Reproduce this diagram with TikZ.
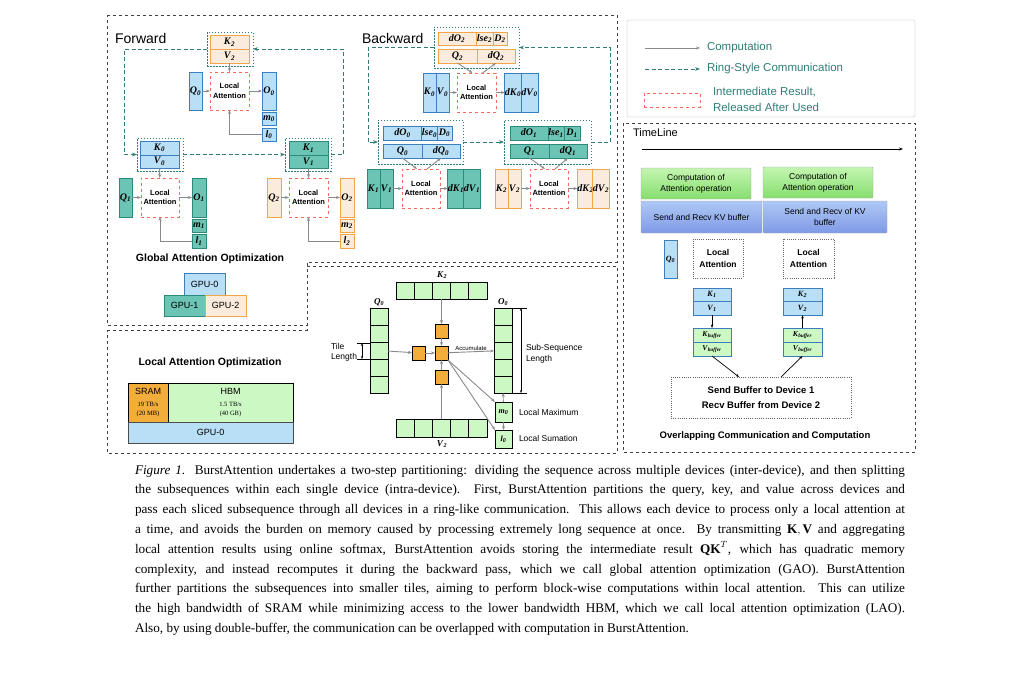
\documentclass[tikz,border=0pt]{standalone}
\usepackage{fontspec}
\setmainfont{Liberation Serif}
\setsansfont{Liberation Sans}
\usetikzlibrary{arrows.meta,calc}
\definecolor{bfill}{HTML}{B9DFF7}\definecolor{bdraw}{HTML}{3D7EBF}
\definecolor{tfill}{HTML}{6CC4B4}\definecolor{tdraw}{HTML}{2C8A7C}
\definecolor{ofill}{HTML}{FBEBDC}\definecolor{odraw}{HTML}{F2A64A}
\definecolor{gfill}{HTML}{CCF8C4}\definecolor{otile}{HTML}{F2AD3A}
\definecolor{redd}{HTML}{F26B5B}\definecolor{ringc}{HTML}{2E7D78}
\definecolor{graya}{HTML}{8A8A8A}
\definecolor{gtop}{HTML}{C4F5B2}\definecolor{gbot}{HTML}{86DE6E}
\definecolor{btop}{HTML}{AFC8F5}\definecolor{bbot}{HTML}{7F9AE6}
\newcommand\mv[2]{\textbf{\textit{#1}}\textsubscript{\textbf{\textit{#2}}}}
\newcommand\smalltxt[1]{{\rmfamily\fontsize{6.5}{8}\selectfont #1}}
\newcommand\bx[7]{\node[#1,minimum width={#4pt-#2pt},minimum height={#5pt-#3pt}] (#6) at ({(#2+#4)/2},{(#3+#5)/2}) {#7};}
\begin{document}
\begin{tikzpicture}[x=1pt,y=-1pt,
 every node/.style={inner sep=0pt,outer sep=0pt},
 cellf/.style={font=\fontsize{10}{10}\selectfont},
 bc/.style={cellf,draw=bdraw,fill=bfill,line width=1pt},
 tc/.style={cellf,draw=tdraw,fill=tfill,line width=1pt},
 oc/.style={cellf,draw=odraw,fill=ofill,line width=1pt},
 gc/.style={draw=black,fill=gfill,line width=0.9pt},
 ot/.style={draw=black,fill=otile,line width=0.8pt},
 la/.style={draw=redd,dashed,line width=1pt,align=center,font=\sffamily\bfseries\fontsize{7.5}{9.5}\selectfont},
 dotb/.style={draw=ringc,dash pattern=on 1.5pt off 1.5pt,line width=0.7pt},
 comp/.style={draw=graya,line width=0.9pt,-{Stealth[length=4pt]}},
 ring/.style={draw=ringc,dash pattern=on 4pt off 2.5pt,line width=1pt,-{Stealth[length=5pt]}},
 outer/.style={draw=black!75,dashed,line width=0.9pt},
 lbl/.style={font=\sffamily\fontsize{14}{14}\selectfont,anchor=west},
 sans/.style={font=\sffamily\fontsize{9}{11}\selectfont,align=center}]
\useasboundingbox (0,0) rectangle (1024,691);
% outer boxes
\draw[outer] (107,15) -- (617,15) -- (617,262) -- (307,262) -- (307,325) -- (107,325) -- cycle;
\draw[outer] (107,330) -- (307,330) -- (307,266) -- (617,266) -- (617,453) -- (107,453) -- cycle;
\node[lbl] (fwd) at (115,38) {Forward};
\node[lbl] (bwd) at (362,38) {Backward};
% ---------- Forward ----------
\bx{dotb}{207}{32}{253}{66}{fk2d}{}
\bx{oc}{210}{35}{249}{49}{fk2}{\mv{K}{2}}
\bx{oc}{210}{49}{249}{63}{fv2}{\mv{V}{2}}
\bx{bc}{189}{72}{202}{110}{fq0}{\mv{Q}{0}}
\bx{la}{210}{72}{249}{110}{fla0}{Local\\Attention}
\bx{bc}{262}{72}{276}{110}{fo0}{\mv{O}{0}}
\bx{bc}{262}{112}{276}{125}{fm0}{\mv{m}{0}}
\bx{bc}{262}{128}{276}{141}{fl0}{\mv{l}{0}}
\draw[comp] (fv2) -- (fla0);
\draw[comp] (fq0) -- (fla0);
\draw[comp] (fla0) -- (fo0);
\draw[comp] (fl0.west) -| (fla0.south);
\bx{dotb}{137}{138}{183}{171}{fk0d}{}
\bx{bc}{140}{141}{179}{155}{fk0}{\mv{K}{0}}
\bx{bc}{140}{155}{179}{168}{fv0}{\mv{V}{0}}
\bx{tc}{119}{178}{132}{217}{fq1}{\mv{Q}{1}}
\bx{la}{141}{178}{179}{217}{fla1}{Local\\Attention}
\bx{tc}{192}{178}{206}{217}{fo1}{\mv{O}{1}}
\bx{tc}{192}{219}{206}{232}{fm1}{\mv{m}{1}}
\bx{tc}{192}{234}{206}{248}{fl1}{\mv{l}{1}}
\draw[comp] (fv0) -- (fla1);
\draw[comp] (fq1) -- (fla1);
\draw[comp] (fla1) -- (fo1);
\draw[comp] (fl1.west) -| (fla1.south);
\bx{dotb}{285}{138}{331}{171}{fk1d}{}
\bx{tc}{289}{141}{328}{155}{fk1}{\mv{K}{1}}
\bx{tc}{289}{155}{328}{168}{fv1}{\mv{V}{1}}
\bx{oc}{267}{178}{281}{217}{fq2}{\mv{Q}{2}}
\bx{la}{289}{178}{328}{217}{fla2}{Local\\Attention}
\bx{oc}{340}{178}{354}{217}{fo2}{\mv{O}{2}}
\bx{oc}{340}{219}{354}{232}{fm2}{\mv{m}{2}}
\bx{oc}{340}{234}{354}{248}{fl2}{\mv{l}{2}}
\draw[comp] (fv1) -- (fla2);
\draw[comp] (fq2) -- (fla2);
\draw[comp] (fla2) -- (fo2);
\draw[comp] (fl2.west) -| (fla2.south);
\coordinate (r1) at (124,49); \coordinate (r2) at (124,154.5);
\coordinate (r3) at (343,154.5); \coordinate (r4) at (343,49);
\draw[ring] (fk2d.west) -- (r1) -- (r2) -- (fk0d.west);
\draw[ring] (fk0d.east) -- (fk1d.west);
\draw[ring] (fk1d.east) -- (r3) -- (r4) -- (fk2d.east);
\node[font=\sffamily\bfseries\fontsize{10.5}{12}\selectfont] (gao) at (210,259) {Global Attention Optimization};
\bx{bc}{184}{273}{225}{295}{g0}{\sffamily\fontsize{9}{9}\selectfont GPU-0}
\bx{tc}{164}{295}{205}{316}{g1}{\sffamily\fontsize{9}{9}\selectfont GPU-1}
\bx{oc}{205}{295}{246}{316}{g2}{\sffamily\fontsize{9}{9}\selectfont GPU-2}
% ---------- Backward ----------
\bx{dotb}{434}{27}{519}{68}{bkd}{}
\bx{oc}{438}{32}{476}{45}{bdo2}{\mv{dO}{2}}
\bx{oc}{476}{32}{493}{45}{blse2}{\mv{lse}{2}}
\bx{oc}{493}{32}{507}{45}{bD2}{\mv{D}{2}}
\bx{oc}{438}{49}{477}{63}{bq2}{\mv{Q}{2}}
\bx{oc}{477}{49}{515}{63}{bdq2}{\mv{dQ}{2}}
\bx{bc}{423}{73}{436}{112}{bk0}{\mv{K}{0}}
\bx{bc}{436}{73}{449}{112}{bv0}{\mv{V}{0}}
\bx{la}{457}{73}{496}{112}{bla0}{Local\\Attention}
\bx{bc}{505}{73}{521}{112}{bdk0}{\mv{dK}{0}}
\bx{bc}{521}{73}{538}{112}{bdv0}{\mv{dV}{0}}
\draw[comp] (bv0) -- (bla0);
\draw[comp] (bla0) -- (bdk0);
\draw[comp] (bq2.south) -- ($(bla0.north)+(-4,0)$);
\draw[comp] ($(bla0.north)+(6,0)$) -- (bdq2.south);
% left group
\bx{dotb}{378}{120}{463}{164}{bld}{}
\bx{bc}{383}{126}{422}{140}{bdo0}{\mv{dO}{0}}
\bx{bc}{422}{126}{437}{140}{blse0}{\mv{lse}{0}}
\bx{bc}{437}{126}{452}{140}{bD0}{\mv{D}{0}}
\bx{bc}{383}{144}{422}{158}{bq0}{\mv{Q}{0}}
\bx{bc}{422}{144}{460}{158}{bdq0}{\mv{dQ}{0}}
\bx{tc}{367}{169}{380}{208}{bk1}{\mv{K}{1}}
\bx{tc}{380}{169}{393}{208}{bv1}{\mv{V}{1}}
\bx{la}{402}{169}{440}{208}{bla1}{Local\\Attention}
\bx{tc}{448}{169}{464}{208}{bdk1}{\mv{dK}{1}}
\bx{tc}{464}{169}{480}{208}{bdv1}{\mv{dV}{1}}
\draw[comp] (bv1) -- (bla1);
\draw[comp] (bla1) -- (bdk1);
\draw[comp] (bq0.south) -- ($(bla1.north)+(-4,0)$);
\draw[comp] ($(bla1.north)+(6,0)$) -- (bdq0.south);
% right group
\bx{dotb}{504}{120}{591}{164}{brd}{}
\bx{tc}{510}{126}{548}{140}{bdo1}{\mv{dO}{1}}
\bx{tc}{548}{126}{564}{140}{blse1}{\mv{lse}{1}}
\bx{tc}{564}{126}{580}{140}{bD1}{\mv{D}{1}}
\bx{tc}{510}{144}{549}{158}{bq1}{\mv{Q}{1}}
\bx{tc}{549}{144}{587}{158}{bdq1}{\mv{dQ}{1}}
\bx{oc}{495}{169}{508}{208}{bk2}{\mv{K}{2}}
\bx{oc}{508}{169}{521}{208}{bv2}{\mv{V}{2}}
\bx{la}{530}{169}{568}{208}{bla2}{Local\\Attention}
\bx{oc}{578}{169}{593}{208}{bdk2}{\mv{dK}{2}}
\bx{oc}{593}{169}{609}{208}{bdv2}{\mv{dV}{2}}
\draw[comp] (bv2) -- (bla2);
\draw[comp] (bla2) -- (bdk2);
\draw[comp] (bq1.south) -- ($(bla2.north)+(-4,0)$);
\draw[comp] ($(bla2.north)+(6,0)$) -- (bdq1.south);
\coordinate (s1) at (368,47.5); \coordinate (s2) at (368,142);
\coordinate (s3) at (610,142); \coordinate (s4) at (610,47.5);
\draw[ring] (bkd.west) -- (s1) -- (s2) -- (bld.west);
\draw[ring] (bld.east) -- (brd.west);
\draw[ring] (brd.east) -- (s3) -- (s4) -- (bkd.east);
% ---------- LAO ----------
\node[font=\sffamily\bfseries\fontsize{10.5}{12}\selectfont] (lao) at (210,363) {Local Attention Optimization};
\bx{draw=black,fill=otile,line width=0.9pt,align=center,font=\sffamily\fontsize{9}{9}\selectfont}{128}{383}{168}{422}{sram}{SRAM\\[3pt]\smalltxt{19 TB/s}\\\smalltxt{(20 MB)}}
\bx{gc,align=center,font=\sffamily\fontsize{9}{9}\selectfont}{168}{383}{293}{422}{hbm}{HBM\\[3pt]\smalltxt{1.5 TB/s}\\\smalltxt{(40 GB)}}
\bx{draw=black!70,fill=bfill,line width=0.9pt}{128}{422}{293}{443}{lgpu}{\sffamily\fontsize{9}{9}\selectfont GPU-0}
\foreach \i in {1,...,5}{
  \pgfmathsetmacro\xa{396+(\i-1)*18.2}\pgfmathsetmacro\xb{396+\i*18.2}
  \bx{gc}{\xa}{282}{\xb}{299}{kr\i}{}
  \bx{gc}{\xa}{419}{\xb}{437}{vr\i}{}
  \pgfmathsetmacro\ya{308+(\i-1)*17}\pgfmathsetmacro\yb{308+\i*17}
  \bx{gc}{370}{\ya}{388}{\yb}{lq\i}{}
  \bx{gc}{494}{\ya}{512}{\yb}{lo\i}{}
}
\node[font=\fontsize{9}{9}\selectfont] (lk2) at (442,275) {\mv{K}{2}};
\node[font=\fontsize{9}{9}\selectfont] (lv2) at (442,444) {\mv{V}{2}};
\node[font=\fontsize{9}{9}\selectfont] (lq0) at (379,302) {\mv{Q}{0}};
\node[font=\fontsize{9}{9}\selectfont] (lo0) at (503,302) {\mv{O}{0}};
\bx{ot}{412}{346}{425}{360}{sqL}{}
\bx{ot}{435}{346}{448}{360}{sqC}{}
\bx{ot}{435}{324}{448}{338}{sqT}{}
\bx{ot}{435}{370}{448}{384}{sqB}{}
\bx{gc,font=\fontsize{8}{8}\selectfont}{495}{402}{512}{422}{lm0}{\mv{m}{0}}
\bx{gc,font=\fontsize{8}{8}\selectfont}{495}{430}{512}{448}{ll0}{\mv{l}{0}}
\draw[comp] (lq3) -- (sqL);
\draw[comp] (sqL) -- (sqC);
\draw[comp] (kr3) -- (sqT);
\draw[comp] (sqT) -- (sqC);
\draw[comp] (vr3) -- (sqB);
\draw[comp] (sqB) -- (sqC);
\draw[comp] (sqC) -- node[above=1.5pt,font=\sffamily\fontsize{6}{6}\selectfont] {Accumulate} (lo3);
\draw[comp] (sqC.south east) -- (lm0.north west);
\draw[comp] (sqC.south east) -- (ll0.north west);
\draw[comp] (lm0) -- (lo5);
\draw[comp] (lm0) -- (ll0);
\coordinate (t1) at (362,343); \coordinate (t2) at (362,359);
\draw[black,line width=0.6pt,{Stealth[length=3pt]}-{Stealth[length=3pt]}] (t1) -- (t2);
\draw[black,line width=0.6pt] ($(t1)+(-5,0)$) -- ($(t1)+(8,0)$) ($(t2)+(-5,0)$) -- ($(t2)+(8,0)$);
\node[font=\sffamily\fontsize{8.5}{10}\selectfont,align=left,anchor=east] (tl) at (357,352) {Tile\\Length};
\coordinate (u1) at (521,308); \coordinate (u2) at (521,393);
\draw[black,line width=0.6pt,{Stealth[length=3pt]}-{Stealth[length=3pt]}] (u1) -- (u2);
\draw[black,line width=0.6pt] ($(u1)+(-8,0)$) -- ($(u1)+(6,0)$) ($(u2)+(-8,0)$) -- ($(u2)+(6,0)$);
\node[font=\sffamily\fontsize{8.5}{11}\selectfont,align=left,anchor=west] (ssl) at (526,354) {Sub-Sequence\\Length};
\node[font=\sffamily\fontsize{8.5}{10}\selectfont,anchor=west] (lmx) at (519,412) {Local Maximum};
\node[font=\sffamily\fontsize{8.5}{10}\selectfont,anchor=west] (lsm) at (519,438) {Local Sumation};
% ---------- Legend ----------
\draw[black!12,line width=0.8pt,rounded corners=2pt] (627,20) rectangle (915,117);
\coordinate (a1) at (645,48); \coordinate (a2) at (700,48);
\coordinate (b1) at (645,69); \coordinate (b2) at (700,69);
\draw[comp] (a1) -- (a2);
\draw[ring] (b1) -- (b2);
\bx{la}{644}{93}{700}{107}{legla}{}
\node[lbl,font=\sffamily\fontsize{11.5}{11.5}\selectfont,text=ringc] (lg1) at (707,48) {Computation};
\node[lbl,font=\sffamily\fontsize{11.5}{11.5}\selectfont,text=ringc] (lg2) at (707,69) {Ring-Style Communication};
\node[lbl,font=\sffamily\fontsize{11.5}{16}\selectfont,text=ringc,align=left] (lg3) at (713,99) {Intermediate Result,\\Released After Used};
% ---------- Timeline ----------
\draw[outer] (623,123) rectangle (915,452);
\node[lbl,font=\sffamily\fontsize{11}{11}\selectfont] (tln) at (633,133) {TimeLine};
\coordinate (tl1) at (642,149); \coordinate (tl2) at (903,149);
\draw[black,line width=0.7pt,-{Stealth[length=4pt]}] (tl1) -- (tl2);
\tikzset{gbox/.style={draw=black!35,top color=gtop,bottom color=gbot,rounded corners=1pt,align=center,font=\sffamily\fontsize{8.5}{11}\selectfont},
 bbox/.style={draw=black!35,top color=btop,bottom color=bbot,rounded corners=1pt,align=center,font=\sffamily\fontsize{8.5}{11}\selectfont}}
\bx{gbox}{641}{168}{751}{199}{gb1}{Computation of\\Attention operation}
\bx{gbox}{763}{167}{873}{198}{gb2}{Computation of\\Attention operation}
\bx{bbox}{641}{201}{762}{233}{bb1}{Send and Recv KV buffer}
\bx{bbox}{763}{201}{887}{233}{bb2}{Send and Recv of KV\\buffer}
\bx{bc,font=\fontsize{8}{8}\selectfont}{664}{240}{677}{278}{tq0}{\mv{Q}{0}}
\tikzset{dbox/.style={draw=black!60,dash pattern=on 1pt off 1.2pt,line width=0.6pt,align=center,font=\sffamily\bfseries\fontsize{8.5}{12}\selectfont}}
\bx{dbox}{693}{239}{743}{278}{tla1}{Local\\Attention}
\bx{dbox}{783}{239}{834}{278}{tla2}{Local\\Attention}
\bx{bc,font=\fontsize{8}{8}\selectfont}{693}{288}{731}{301.5}{tk1}{\mv{K}{1}}
\bx{bc,font=\fontsize{8}{8}\selectfont}{693}{301.5}{731}{315}{tv1}{\mv{V}{1}}
\bx{bc,font=\fontsize{8}{8}\selectfont}{783}{288}{822}{301.5}{tk2}{\mv{K}{2}}
\bx{bc,font=\fontsize{8}{8}\selectfont}{783}{301.5}{822}{315}{tv2}{\mv{V}{2}}
\bx{gc,draw=bdraw,font=\fontsize{7.5}{8}\selectfont}{693}{328}{731}{342}{kb1}{\mv{K}{buffer}}
\bx{gc,draw=bdraw,font=\fontsize{7.5}{8}\selectfont}{693}{342}{731}{356}{vb1}{\mv{V}{buffer}}
\bx{gc,draw=bdraw,font=\fontsize{7.5}{8}\selectfont}{783}{328}{822}{342}{kb2}{\mv{K}{buffer}}
\bx{gc,draw=bdraw,font=\fontsize{7.5}{8}\selectfont}{783}{342}{822}{356}{vb2}{\mv{V}{buffer}}
\bx{dbox,font=\sffamily\bfseries\fontsize{9.5}{15}\selectfont}{671}{377}{851}{418}{sendb}{Send Buffer to Device 1\\Recv Buffer from Device 2}
\tikzset{blk/.style={draw=black,line width=0.7pt,-{Stealth[length=3.5pt]}}}
\draw[blk] (tv1) -- (kb1);
\draw[blk] (vb1.south) -- ($(sendb.north)+(-22,0)$);
\draw[blk] ($(sendb.north)+(20,0)$) -- (vb2.south);
\draw[blk] (kb2) -- (tv2);
\node[font=\sffamily\bfseries\fontsize{9.5}{11}\selectfont] (olc) at (765,436) {Overlapping Communication and Computation};
% ---------- Caption ----------
\node[anchor=north west,text width=770pt,align=justify,font=\fontsize{13.2}{19.8}\selectfont] (cap) at (135,465) {%
\textit{Figure 1.} BurstAttention undertakes a two-step partitioning: dividing the sequence across multiple devices (inter-device), and then splitting\linebreak
the subsequences within each single device (intra-device). First, BurstAttention partitions the query, key, and value across devices and\linebreak
pass each sliced subsequence through all devices in a ring-like communication. This allows each device to process only a local attention at\linebreak
a time, and avoids the burden on memory caused by processing extremely long sequence at once. By transmitting $\mathbf{K},\mathbf{V}$ and aggregating\linebreak
local attention results using online softmax, BurstAttention avoids storing the intermediate result $\mathbf{QK}^T$, which has quadratic memory\linebreak
complexity, and instead recomputes it during the backward pass, which we call global attention optimization (GAO). BurstAttention\linebreak
further partitions the subsequences into smaller tiles, aiming to perform block-wise computations within local attention. This can utilize\linebreak
the high bandwidth of SRAM while minimizing access to the lower bandwidth HBM, which we call local attention optimization (LAO).\linebreak
Also, by using double-buffer, the communication can be overlapped with computation in BurstAttention.};
\end{tikzpicture}
\end{document}
